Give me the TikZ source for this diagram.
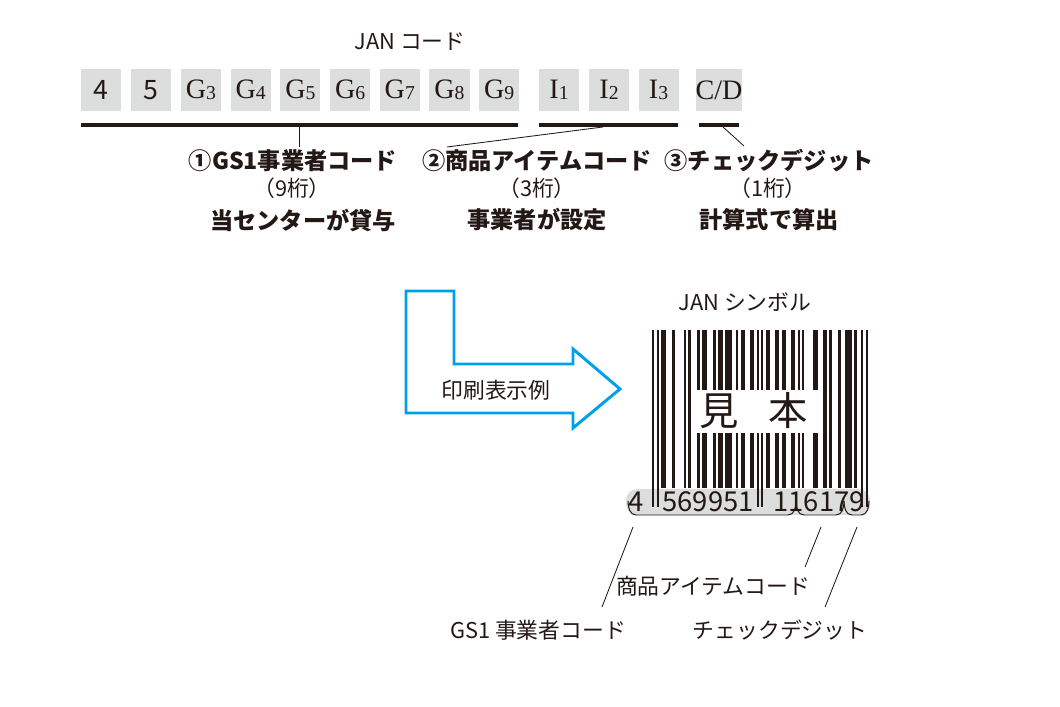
\documentclass[tikz,border=0pt]{standalone}
\usepackage{fontspec}
\setmainfont{Noto Sans CJK JP}
\newfontfamily\jpfont{Noto Sans CJK JP}
\newfontfamily\romfont{Liberation Serif}
\definecolor{ink}{RGB}{35,24,21}
\definecolor{cellgray}{RGB}{220,221,221}
\definecolor{flowblue}{RGB}{0,160,233}
\usetikzlibrary{positioning}
\newcommand\lowfig[1]{{\fontsize{14}{14}\selectfont\raisebox{-0.5pt}{#1}}}

\begin{document}
\begin{tikzpicture}[x=0.025cm, y=-0.025cm,
    cell/.style={fill=cellgray, minimum width=1cm, minimum height=1.05cm, inner sep=0pt, text=ink},
    romcell/.style={cell, font=\romfont\fontsize{20}{22}\selectfont},
    sanscell/.style={cell, font=\jpfont\fontsize{19}{20}\selectfont},
    head/.style={font=\jpfont\bfseries\fontsize{16.5}{18}\selectfont, text=ink, inner sep=0pt},
    note/.style={font=\jpfont\fontsize{15.5}{18}\selectfont, text=ink, inner sep=0pt},
    figs/.style={font=\jpfont\fontsize{19.5}{20}\selectfont, text=ink, inner sep=0pt, anchor=base},
    leader/.style={ink, line width=0.6pt}]
  \useasboundingbox (0,0) rectangle (1060,707);

  % code cells
  \node[note] (jancode) at (410,42) {JAN コード};
  \node[sanscell] (d1) at (101,90) {4};
  \node[sanscell] (d2) at (151,90) {5};
  \foreach \d [count=\i] in {3,...,9}
    \node[romcell] (g\d) at ({201+(\i-1)*49.7},90) {G\lowfig{\d}};
  \foreach \d/\x in {1/559,2/609,3/658.5}
    \node[romcell] (i\d) at (\x,90) {I\lowfig{\d}};
  \node[romcell] (cd) at (719,90) {C/D};

  \fill[ink] (81,123) rectangle (518,127);
  \fill[ink] (539,123) rectangle (678,127);
  \fill[ink] (699,123) rectangle (739,127);

  % meanings
  \node[head] (gshead) at (293,161) {①GS1事業者コード};
  \node[note] (gslen) at (292,188) {（9桁）};
  \node[head] (gswho) at (303,220) {当センターが貸与};
  \node[head] (itemhead) at (537,161) {②商品アイテムコード};
  \node[note] (itemlen) at (537,188) {（3桁）};
  \node[head] (itemwho) at (537,220) {事業者が設定};
  \node[head] (cdhead) at (769,161) {③チェックデジット};
  \node[note] (cdlen) at (768,188) {（1桁）};
  \node[head] (cdwho) at (769,220) {計算式で算出};

  \coordinate (gsbar) at (299,127);
  \coordinate (gsfoot) at (299,147);
  \coordinate (itembar) at (603,127);
  \coordinate (itemfoot) at (447,147);
  \coordinate (cdbar) at (723,127);
  \coordinate (cdfoot) at (744,146);
  \draw[leader] (gsbar) -- (gsfoot);
  \draw[leader] (itembar) -- (itemfoot);
  \draw[leader] (cdbar) -- (cdfoot);

  % arrow
  \draw[flowblue, line width=2.1pt, line join=miter] (406,291) -- (454,291) -- (454,364)
    -- (573,364) -- (573,349) -- (620,389) -- (573,428) -- (573,413) -- (406,413) -- cycle;
  \node[note] (sample) at (496,390) {印刷表示例};

  % symbol
  \node[note] (jansym) at (745,302) {JAN シンボル};
  \fill[cellgray, rounded corners=8] (626,489) rectangle (870,515);
  \foreach \s/\w in {4/2,9/1,14/1,16/1,20/1,22/2,27/1,29/2,32/3,37/1,39/2,43/2,
                     50/2,54/2,57/2,61/2,64/1,66/1,71/2,75/2,78/1,82/1,85/3,89/1}
    \fill[ink] ({652+\s*2.274},330) rectangle ({652+(\s+\w)*2.274},488);
  \foreach \s in {0,2,46,48,92,94}
    \fill[ink] ({652+\s*2.274},330) rectangle ({652+(\s+1)*2.274},507);
  \fill[white] (697,390) rectangle (820,433);
  \node[font=\jpfont\fontsize{28}{28}\selectfont, text=ink, inner sep=0pt] (mi) at (719.5,411) {見};
  \node[font=\jpfont\fontsize{28}{28}\selectfont, text=ink, inner sep=0pt] (hon) at (788.5,411) {本};

  \node[figs] (lead) at (636,512) {4};
  \node[figs] (lefthalf) at (708,512) {569951};
  \node[figs] (righthalf) at (819,512) {116179};

  \foreach \a/\b in {628/796,796/844,844/869}
    \draw[ink, line width=0.7pt] (\a,501) to[out=-90,in=180] (\a+8,515)
      -- (\b-8,515) to[out=0,in=-90] (\b,501);

  % readings
  \node[note] (itemname) at (713,586) {商品アイテムコード};
  \node[note] (gsname) at (538,630) {GS1 事業者コード};
  \node[note] (cdname) at (780,630) {チェックデジット};
  \coordinate (gsbrace) at (633,527);
  \coordinate (gsend) at (602,607);
  \coordinate (itembrace) at (821,527);
  \coordinate (itemend) at (805,567);
  \coordinate (cdbrace) at (857,527);
  \coordinate (cdend) at (825,607);
  \draw[leader] (gsbrace) -- (gsend);
  \draw[leader] (itembrace) -- (itemend);
  \draw[leader] (cdbrace) -- (cdend);
\end{tikzpicture}
\end{document}
